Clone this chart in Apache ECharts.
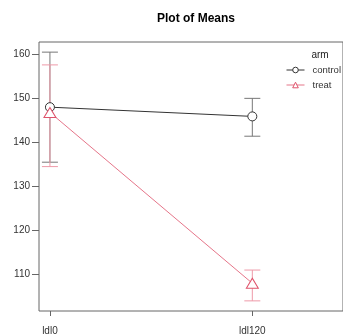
<!DOCTYPE html>
<html>
<head>
<meta charset="utf-8">
<script src="https://cdn.jsdelivr.net/npm/echarts@6/dist/echarts.min.js"></script>
<style>
html,body{margin:0;padding:0;background:#fff;}
#main{width:343px;height:336px;}
</style>
</head>
<body>
<div id="main"></div>
<script>
var categories = ['ldl0', 'ldl120'];
var armNames = ['control', 'treat'];
var controlMeans = [148.0, 145.9];
var controlLow = [135.5, 141.4];
var controlHigh = [160.5, 150.0];
var treatMeans = [146.8, 108.0];
var treatLow = [134.5, 104.0];
var treatHigh = [157.6, 111.0];
var yTicks = [110, 120, 130, 140, 150, 160];

var ctrlColor = '#333333';
var treatColor = '#DF536B';
var fontFam = 'Liberation Sans, Arial, sans-serif';

function pts(means){
	var d = [];
	for (var i = 0; i < means.length; i++) d.push([i + 1, means[i]]);
	return d;
}
function bars(low, high){
	var d = [];
	for (var i = 0; i < low.length; i++) d.push([i + 1, low[i], high[i]]);
	return d;
}
function errRender(color){
	return function(params, api){
		var x = api.value(0);
		var lo = api.coord([x, api.value(1)]);
		var hi = api.coord([x, api.value(2)]);
		var hw = 8;
		var st = {stroke: color, lineWidth: 1};
		return {
			type: 'group',
			children: [
				{type: 'line', shape: {x1: lo[0], y1: lo[1], x2: hi[0], y2: hi[1]}, style: st},
				{type: 'line', shape: {x1: lo[0] - hw, y1: lo[1], x2: lo[0] + hw, y2: lo[1]}, style: st},
				{type: 'line', shape: {x1: hi[0] - hw, y1: hi[1], x2: hi[0] + hw, y2: hi[1]}, style: st}
			]
		};
	};
}

var myChart = echarts.init(document.getElementById('main'));
var option = {
	animation: false,
	textStyle: {fontFamily: fontFam},
	title: [
		{
			text: 'Plot of Means',
			left: 191, top: 8, textAlign: 'center',
			textStyle: {fontSize: 12, fontWeight: 'bold', color: '#000', fontFamily: fontFam}
		},
		{
			text: 'arm',
			left: 315, top: 45, textAlign: 'center',
			textStyle: {fontSize: 10, fontWeight: 400, color: '#222', fontFamily: fontFam}
		}
	],
	legend: {
		data: armNames,
		orient: 'vertical',
		left: 281, top: 60,
		itemWidth: 18, itemHeight: 7, itemGap: 5,
		itemStyle: {borderWidth: 1},
		lineStyle: {width: 1},
		textStyle: {fontSize: 9.5, color: '#333', fontFamily: fontFam, padding: [0, 0, 0, 3]}
	},
	grid: {
		left: 39, right: -2, top: 42, bottom: 24,
		show: true, borderColor: '#666', borderWidth: 1
	},
	xAxis: {
		type: 'value',
		min: 0.946, max: 2.448,
		splitLine: {show: false},
		axisLine: {show: false},
		axisTick: {show: true, length: 5, lineStyle: {color: '#666'}, customValues: [1, 2]},
		axisLabel: {
			customValues: [1, 2], margin: 15, fontSize: 10, color: '#333',
			formatter: function(v){ return categories[Math.round(v) - 1] || ''; }
		}
	},
	yAxis: {
		type: 'value',
		min: 101.7, max: 162.8,
		splitLine: {show: false},
		axisLine: {show: false},
		axisTick: {show: true, length: 7, lineStyle: {color: '#666'}, customValues: yTicks},
		axisLabel: {customValues: yTicks, margin: 9, fontSize: 10, color: '#333'}
	},
	series: [
		{
			name: 'control', type: 'line',
			data: pts(controlMeans),
			symbol: 'circle', symbolSize: 9,
			itemStyle: {color: '#fff', borderColor: ctrlColor, borderWidth: 1},
			lineStyle: {color: ctrlColor, width: 1},
			z: 3
		},
		{
			name: 'treat', type: 'line',
			data: pts(treatMeans),
			symbol: 'triangle', symbolSize: [12, 10],
			itemStyle: {color: '#fff', borderColor: treatColor, borderWidth: 1},
			lineStyle: {color: treatColor, width: 1, opacity: 0.8},
			z: 3
		},
		{
			type: 'custom', name: 'controlErr',
			data: bars(controlLow, controlHigh),
			renderItem: errRender('#777'),
			z: 2
		},
		{
			type: 'custom', name: 'treatErr',
			data: bars(treatLow, treatHigh),
			renderItem: errRender('#EE9AA8'),
			z: 2
		}
	]
};
myChart.setOption(option);
</script>
</body>
</html>
